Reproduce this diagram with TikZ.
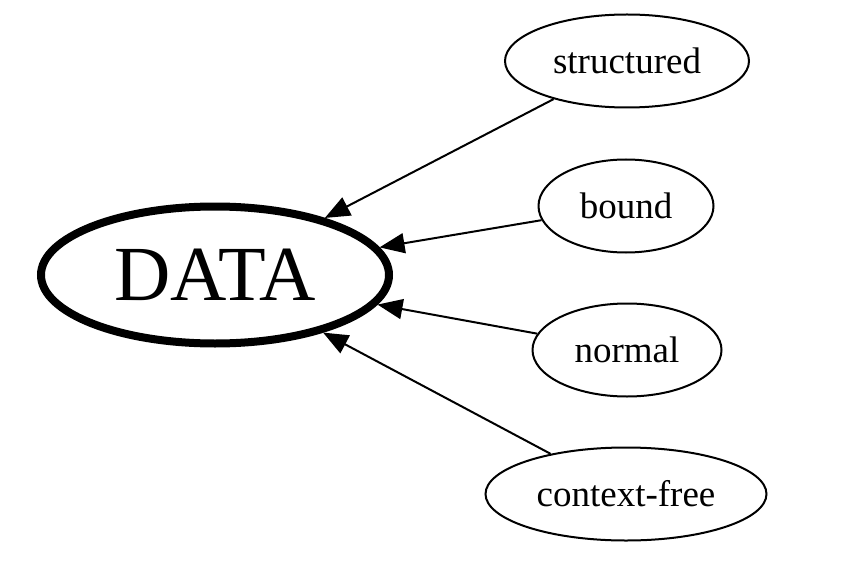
\documentclass[tikz,border=0pt]{standalone}
\usepackage{fontspec}
\setmainfont{Liberation Serif}
\usetikzlibrary{arrows.meta,shapes}
\tikzset{
	leaf/.style={draw, ellipse, line width=2pt, inner sep=0pt, minimum height=93pt, font=\fontsize{37}{40}\selectfont},
	root/.style={draw, ellipse, line width=8pt, inner sep=0pt, minimum width=348pt, minimum height=137pt, font=\fontsize{78}{80}\selectfont},
	feed/.style={line width=2pt, -{Triangle[length=25pt,width=20pt]}},
}
\begin{document}
\begin{tikzpicture}[x=1pt,y=-1pt]
	\useasboundingbox (0,0) rectangle (842,564);
	\node [root] (data) at (215,275) {DATA};
	% sources on the right
	\node [leaf, minimum width=244pt] (structured) at (627,61) {structured};
	\node [leaf, minimum width=175pt] (bound) at (626,206) {bound};
	\node [leaf, minimum width=189pt] (normal) at (627,350) {normal};
	\node [leaf, minimum width=281pt] (contextfree) at (626,494) {context-free};
	\draw [feed] (structured) -- (data);
	\draw [feed] (bound) -- (data);
	\draw [feed] (normal) -- (data);
	\draw [feed] (contextfree) -- (data);
\end{tikzpicture}
\end{document}
